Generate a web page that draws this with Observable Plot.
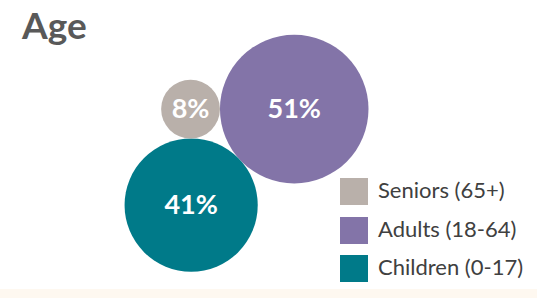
<!DOCTYPE html>
<html>
<head>
<meta charset="utf-8">
<script src="https://cdn.jsdelivr.net/npm/d3@7"></script>
<script src="https://cdn.jsdelivr.net/npm/@observablehq/plot@0.6"></script>
<style>
  html, body { margin: 0; padding: 0; background: #ffffff; }
  #wrap { position: relative; width: 537px; height: 298px; overflow: hidden; font-family: Lato, "Open Sans", sans-serif; }
  #title { position: absolute; left: 22px; top: 6px; font-size: 37px; font-weight: 700; color: #595959; line-height: 1; margin: 0; }
  #legend { position: absolute; left: 340px; top: 178px; }
  .item { position: absolute; left: 0; height: 27px; white-space: nowrap; }
  .sw { position: absolute; left: 0; top: 0; width: 28px; height: 27px; }
  .lab { position: absolute; left: 38px; top: 1px; font-size: 22px; line-height: 1; color: #404040; }
  #band { position: absolute; left: 0; top: 289px; width: 537px; height: 9px; background: #fef8f0; }
  #chart { position: absolute; left: 0; top: 0; }
</style>
</head>
<body>
<div id="wrap">
  <div id="chart"></div>
  <div id="title">Age</div>
  <div id="legend"></div>
  <div id="band"></div>
</div>
<script>
// ---- data ----
const categories = ["Seniors (65+)", "Adults (18-64)", "Children (0-17)"];
const shares = [8, 51, 41];
const labels = ["8%", "51%", "41%"];

// ---- style ----
const palette = ["#b9b0aa", "#8374a8", "#007a89"];
const radiusPerSqrt = 10.4;          // circle area proportional to share
const packCenter = [245, 154];       // pixel position of the pack's enclosing circle

const nodes = categories.map((c, i) => ({
  category: c,
  value: shares[i],
  label: labels[i],
  r: radiusPerSqrt * Math.sqrt(shares[i])
}));
d3.packSiblings(nodes);

const W = 537, H = 298;
const chart = Plot.plot({
  width: W,
  height: H,
  margin: 0,
  style: { background: "transparent" },
  x: { axis: null, domain: [-packCenter[0], W - packCenter[0]], range: [0, W] },
  y: { axis: null, domain: [-packCenter[1], H - packCenter[1]], range: [0, H] },
  r: { type: "identity" },
  color: { domain: categories, range: palette },
  marks: [
    Plot.dot(nodes, { x: "x", y: "y", r: "r", fill: "category" }),
    Plot.text(nodes, {
      x: "x", y: "y", text: "label", fill: "white",
      fontSize: 27, fontWeight: "bold", fontFamily: "Lato"
    })
  ]
});
document.getElementById("chart").appendChild(chart);

// legend
const legend = document.getElementById("legend");
categories.forEach((c, i) => {
  const item = document.createElement("div");
  item.className = "item";
  item.style.top = (i * 38.5) + "px";
  const sw = document.createElement("div");
  sw.className = "sw";
  sw.style.background = palette[i];
  const lab = document.createElement("div");
  lab.className = "lab";
  lab.textContent = c;
  item.appendChild(sw);
  item.appendChild(lab);
  legend.appendChild(item);
});
</script>
</body>
</html>
